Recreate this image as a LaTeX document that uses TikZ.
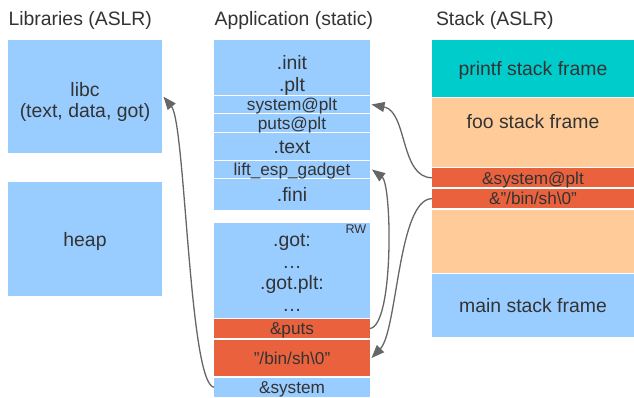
\documentclass[tikz,border=0pt]{standalone}
\usepackage{fontspec}
\setmainfont{Liberation Sans}
\usetikzlibrary{arrows.meta}
\definecolor{cblue}{HTML}{99CCFF}
\definecolor{cteal}{HTML}{00CCCC}
\definecolor{cpeach}{HTML}{FFCC99}
\definecolor{cred}{HTML}{EA613E}
\definecolor{ctext}{HTML}{333333}
\definecolor{carrow}{HTML}{666666}
\newcommand{\dq}{\char34\relax}
\begin{document}
\begin{tikzpicture}[x=1pt,y=-1pt,
  box/.style={anchor=north west, inner sep=0pt, outer sep=0pt, text=ctext, align=center},
  big/.style={font=\fontsize{19.4}{21.5}\selectfont, text height=14.7pt, text depth=0pt},
  small/.style={font=\fontsize{17.2}{19}\selectfont, text height=12.6pt, text depth=0pt},
  txt/.style={inner sep=0pt, outer sep=0pt, text=ctext, align=center},
  hdr/.style={anchor=base west, inner sep=0pt, outer sep=0pt, text=ctext, font=\fontsize{19.4}{21.5}\selectfont},
  colL/.style={box, minimum width=154pt},
  colA/.style={box, minimum width=156pt},
  colS/.style={box, minimum width=202pt},
  arr/.style={draw=carrow, line width=1.3pt, -{Triangle[length=13pt,width=10pt]}}
]
\fill[white] (0,0) rectangle (634,398);
\useasboundingbox (0,0) rectangle (634,398);

% headers
\node[hdr] (hlib) at (8.6,26) {Libraries (ASLR)};
\node[hdr] (happ) at (214.6,26) {Application (static)};
\node[hdr] (hstk) at (436,26) {Stack (ASLR)};

% libraries
\node[colL, fill=cblue, minimum height=113.3pt] (libc) at (8,40) {};
\node[txt, font=\fontsize{19.4}{21.5}\selectfont] (libct) at (85,102) {libc\\(text, data, got)};
\node[colL, big, fill=cblue, minimum height=113.4pt] (heap) at (8,182.3) {heap};

% application
\node[colA, fill=cblue, minimum height=55pt] (init) at (214,40) {};
\node[txt, font=\fontsize{19.4}{22}\selectfont] (initt) at (292,75.4) {.init\\.plt};
\node[colA, small, fill=cblue, minimum height=17pt] (sysplt) at (214,96) {system@plt};
\node[colA, small, fill=cblue, minimum height=18pt] (putsplt) at (214,114) {puts@plt};
\node[colA, big, fill=cblue, minimum height=27pt] (text) at (214,133) {.text};
\node[colA, small, fill=cblue, minimum height=17pt] (lift) at (214,161) {lift\_esp\_gadget};
\node[colA, big, fill=cblue, minimum height=31pt] (fini) at (214,179) {.fini};

\node[colA, fill=cblue, minimum height=94.5pt] (got) at (214,223) {};
\node[txt, font=\fontsize{19.4}{21.5}\selectfont] (gott) at (292,272.5) {.got:\\…\\.got.plt:\\…};
\node[txt, font=\fontsize{12.6}{14}\selectfont] (rw) at (356,229.5) {RW};
\node[colA, small, fill=cred, minimum height=19pt] (puts) at (214,319) {\&puts};
\node[colA, small, fill=cred, minimum height=36pt] (binsh) at (214,340) {\dq/bin/sh\textbackslash 0\dq};
\node[colA, small, fill=cblue, minimum height=19.5pt] (system) at (214,377.5) {\&system};

% stack
\node[colS, big, fill=cteal, minimum height=57pt] (printf) at (432,40) {printf stack frame};
\node[colS, fill=cpeach, minimum height=69pt] (foo) at (432,98) {};
\node[txt, big] (foot) at (533,121.5) {foo stack frame};
\node[colS, small, fill=cred, minimum height=19.5pt] (sA) at (432,168) {\&system@plt};
\node[colS, small, fill=cred, minimum height=19.3pt] (sB) at (432,189) {\&\dq/bin/sh\textbackslash 0\dq};
\node[colS, fill=cpeach, minimum height=63pt] (pad) at (432,209.7) {};
\node[colS, big, fill=cblue, minimum height=62.7pt] (mainf) at (432,274) {main stack frame};

% connectors
\draw[arr] (sA.west) .. controls +(-32,0) and +(36,7) .. ([xshift=1.5pt]sysplt.east);
\draw[arr] (sB.west) .. controls +(-34,0) and +(26,-27) .. ([xshift=1.5pt]binsh.east);
\draw[arr] (puts.east) .. controls +(24,-3) and +(20,15) .. ([xshift=2pt]lift.east);
\draw[arr] (system.west) .. controls +(-25,-3) and +(22,27) .. ([xshift=1.5pt]libc.east);
\end{tikzpicture}
\end{document}
